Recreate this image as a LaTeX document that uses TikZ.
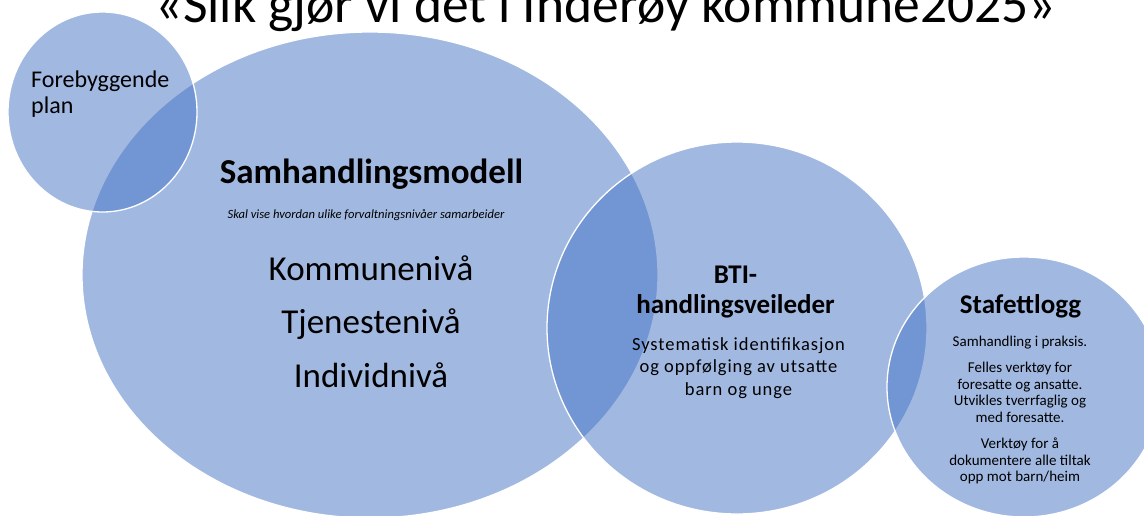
\documentclass[tikz,border=0pt]{standalone}
\usepackage{fontspec}
\setmainfont{Carlito}
\definecolor{venn}{HTML}{4472C4}
\tikzstyle{blob}=[fill=venn,fill opacity=0.5,draw=white,line width=1.3pt]
\tikzstyle{every node}=[inner sep=0pt,text=black,align=center]

\begin{document}
\begin{tikzpicture}[x=1pt,y=-1pt]
\useasboundingbox (0,0) rectangle (1144,515);
\clip (0,0) rectangle (1144,515);

% circles, back to front
\filldraw[blob] (370,275) ellipse [x radius=288,y radius=243];
\filldraw[blob] (102.5,112) ellipse [x radius=94.5,y radius=100];
\filldraw[blob] (737,328) ellipse [x radius=190,y radius=186];
\filldraw[blob] (1024,387) ellipse [x radius=137,y radius=130];

% texts (base = last line)
\node[anchor=base,font=\fontsize{53.5}{60}\selectfont] (TITLE) at (606,22) {«Slik gjør vi det i Inderøy kommune2025»};

\node[anchor=base west,align=left,font=\fontsize{24}{26}\selectfont] (PLAN) at (31,113) {Forebyggende\\plan};

\node[anchor=base,font=\bfseries\fontsize{35}{40}\selectfont] (MODEL) at (371.5,183) {Samhandlingsmodell};
\node[anchor=base,font=\itshape\fontsize{12.6}{14}\selectfont] (MODELsub) at (366,218) {Skal vise hvordan ulike forvaltningsnivåer samarbeider};
\node[anchor=base,font=\fontsize{35}{53.5}\selectfont] (LEVELS) at (371,387) {Kommunenivå\\Tjenestenivå\\Individnivå};

\node[anchor=base,font=\bfseries\fontsize{27}{30}\selectfont] (BTI) at (735.5,313) {BTI-\\handlingsveileder};
\node[anchor=base,font=\fontsize{18.5}{22.5}\selectfont\addfontfeature{LetterSpace=5}] (BTIsub) at (738.5,395) {Systematisk identifikasjon\\og oppfølging av utsatte\\barn og unge};

\node[anchor=base,font=\bfseries\fontsize{27}{30}\selectfont] (STAFETT) at (1020.5,313) {Stafettlogg};
\node[anchor=base,font=\fontsize{15}{16.7}\selectfont] (PRAKSIS) at (1020,346.7) {Samhandling i praksis.};
\node[anchor=base,font=\fontsize{15}{16.7}\selectfont] (VERKTOY) at (1020,422.4) {Felles verktøy for\\foresatte og ansatte.\\Utvikles tverrfaglig og\\med foresatte.};
\node[anchor=base,font=\fontsize{15}{16.7}\selectfont] (TILTAK) at (1020,481.7) {Verktøy for å\\dokumentere alle tiltak\\opp mot barn/heim};
\end{tikzpicture}
\end{document}
